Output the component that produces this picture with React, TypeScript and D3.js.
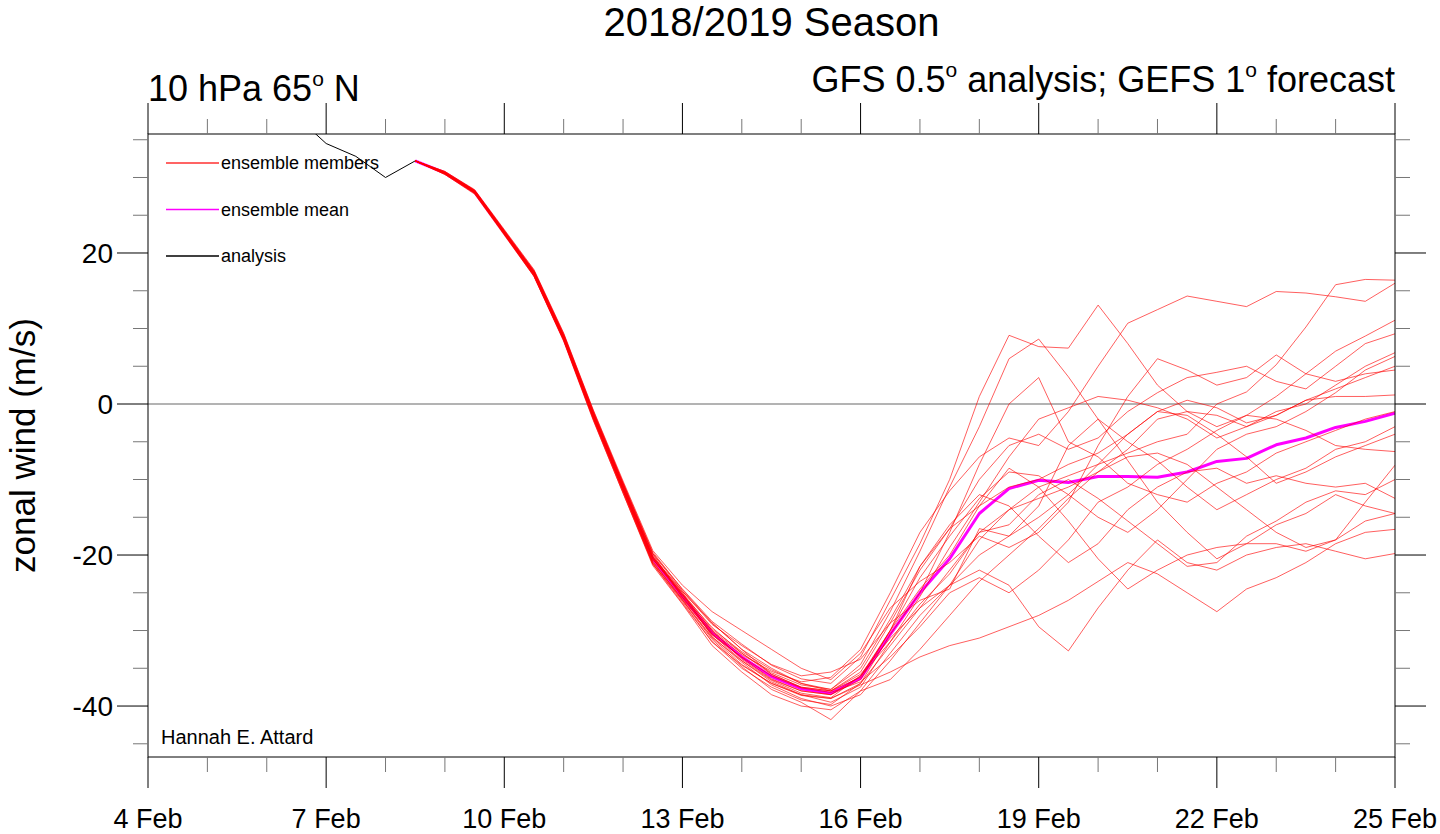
import React from 'react';
import * as d3 from 'd3';

// ---------- data ----------
const memberTimes = [8.5, 9, 9.5, 10.5, 11, 11.5, 12, 12.5, 13, 13.5, 14, 14.5, 15, 15.5, 16, 16.5, 17, 17.5, 18, 18.5, 19, 19.5, 20, 20.5, 21, 21.5, 22, 22.5, 23, 23.5, 24, 24.5, 25];

const member01 = [32.2, 30.5, 28.0, 17.6, 9.2, -1.0, -10.6, -19.8, -24.5, -28.8, -31.8, -34.6, -36.4, -37.0, -33.5, -26.0, -18.5, -10.0, 1.0, 9.1, 7.6, 7.4, 13.1, 8.0, 2.5, -1.0, -3.0, -1.5, 1.0, 4.0, 7.0, 9.0, 11.1];
const member02 = [32.2, 30.6, 28.2, 17.3, 8.9, -1.3, -10.8, -20.2, -25.2, -29.6, -33.0, -35.6, -37.2, -37.8, -34.5, -27.5, -19.5, -11.0, -3.0, 6.0, 8.6, 3.6, -2.0, -7.5, -13.0, -17.0, -20.5, -18.5, -16.0, -14.5, -12.0, -13.5, -14.5];
const member03 = [32.2, 30.7, 28.3, 17.5, 9.0, -1.2, -10.5, -19.9, -25.6, -30.2, -33.2, -35.4, -36.8, -36.2, -32.5, -25.0, -17.0, -11.5, -7.0, -4.5, -5.5, -1.0, 5.0, 10.7, 12.5, 14.3, 13.6, 12.9, 14.9, 14.7, 14.2, 13.6, 16.0];
const member04 = [32.2, 30.6, 28.0, 17.1, 8.6, -1.8, -11.4, -20.9, -26.0, -31.0, -34.5, -37.0, -38.5, -39.0, -37.0, -32.0, -27.0, -22.0, -17.0, -14.0, -11.0, -9.5, -8.0, -6.5, -5.0, -4.0, 0.0, 1.6, 5.2, 10.2, 15.8, 16.5, 16.4];
const member05 = [32.2, 30.4, 27.9, 17.2, 8.8, -1.5, -11.0, -20.3, -24.8, -29.0, -32.5, -35.0, -37.0, -38.0, -35.5, -29.0, -22.0, -16.5, -10.0, -5.5, -4.0, -6.0, -4.5, -1.0, 1.5, 3.5, 4.2, 5.0, 3.0, 2.0, 5.0, 8.0, 9.3];
const member06 = [32.2, 30.6, 28.1, 17.0, 8.5, -1.9, -11.5, -21.0, -25.8, -30.5, -34.0, -36.8, -38.5, -39.5, -37.5, -31.5, -25.5, -19.0, -13.0, -7.0, -2.0, -0.5, 1.0, 0.5, -0.5, -2.0, -4.5, -3.0, -1.0, 0.0, 2.5, 5.0, 6.8];
const member07 = [32.2, 30.5, 28.2, 17.4, 8.9, -1.4, -11.1, -20.5, -25.3, -30.0, -33.8, -36.5, -38.0, -38.5, -36.0, -30.0, -23.0, -17.5, -12.5, -9.0, -9.5, -12.0, -15.0, -17.0, -14.0, -10.0, -6.0, -4.0, -3.0, -1.0, 1.5, 4.5, 6.3];
const member08 = [32.2, 30.7, 28.0, 16.9, 8.4, -2.1, -11.8, -21.4, -26.5, -32.0, -35.5, -38.5, -40.0, -40.5, -38.0, -33.0, -28.0, -24.0, -20.0, -17.5, -15.0, -12.0, -8.0, -4.0, -1.0, 0.5, -0.5, -2.5, -1.5, 0.5, 2.0, 3.5, 5.0];
const member09 = [32.2, 30.8, 28.4, 17.8, 9.4, -0.8, -10.2, -19.4, -24.0, -27.5, -30.0, -32.5, -35.0, -36.5, -33.0, -27.0, -23.5, -21.0, -17.5, -19.0, -17.0, -13.0, -5.5, 1.0, 6.0, 4.5, 2.5, 3.5, 6.5, 4.0, 3.0, 4.0, 4.5];
const member10 = [32.2, 30.6, 28.1, 17.2, 8.7, -1.6, -11.2, -20.6, -25.0, -30.8, -34.2, -37.2, -39.0, -40.0, -38.5, -34.0, -29.0, -24.0, -18.0, -14.0, -12.5, -11.0, -9.0, -6.0, -2.0, -1.0, -1.5, -3.0, -1.5, 0.5, 1.0, 1.0, 1.2];
const member11 = [32.2, 30.5, 27.9, 17.1, 8.6, -1.8, -11.4, -21.1, -26.2, -31.5, -35.0, -37.5, -39.2, -39.8, -37.0, -30.5, -25.0, -17.0, -8.0, 0.0, 3.5, -5.0, -7.0, -10.5, -12.0, -13.0, -10.5, -9.0, -6.5, -5.0, -3.5, -2.0, -1.0];
const member12 = [32.2, 30.7, 28.3, 17.6, 9.1, -1.1, -10.5, -19.8, -24.8, -29.2, -32.0, -34.5, -36.0, -35.5, -33.8, -29.0, -26.0, -24.5, -16.5, -17.5, -13.5, -5.5, -2.0, -5.0, -7.5, -11.0, -14.0, -12.0, -10.0, -8.5, -6.0, -5.0, -3.0];
const member13 = [32.2, 30.6, 28.1, 17.3, 8.8, -1.6, -11.1, -20.5, -25.6, -30.6, -33.5, -36.0, -37.6, -38.2, -36.8, -33.5, -29.5, -25.0, -23.0, -25.0, -22.0, -18.0, -13.0, -11.0, -8.0, -6.0, -3.5, -1.5, -2.0, -3.5, -5.5, -6.0, -6.3];
const member14 = [32.2, 30.4, 27.8, 16.9, 8.3, -2.2, -11.8, -21.2, -26.0, -31.2, -34.8, -37.8, -39.5, -41.8, -38.0, -36.5, -32.5, -28.0, -23.5, -20.0, -16.5, -12.5, -9.0, -7.0, -6.5, -8.0, -11.0, -14.0, -17.0, -19.0, -18.0, -13.0, -8.1];
const member15 = [32.2, 30.6, 28.2, 17.5, 9.0, -1.3, -10.8, -20.1, -25.0, -29.8, -32.8, -35.2, -37.0, -37.8, -35.0, -28.5, -21.5, -16.0, -12.0, -13.5, -17.5, -21.0, -18.5, -14.0, -11.0, -9.0, -8.5, -10.5, -9.5, -10.5, -11.0, -10.5, -12.5];
const member16 = [32.2, 30.6, 28.1, 17.3, 8.9, -1.4, -11.0, -20.4, -25.4, -30.4, -33.6, -36.4, -38.0, -38.5, -36.5, -30.0, -24.5, -20.0, -13.5, -8.5, -11.0, -15.5, -20.5, -24.5, -22.0, -20.0, -19.0, -18.5, -18.5, -19.5, -18.0, -15.5, -14.5];
const member17 = [32.2, 30.5, 28.0, 17.0, 8.5, -2.0, -11.6, -21.2, -26.4, -31.5, -34.6, -37.0, -38.6, -39.0, -37.2, -35.5, -33.5, -32.0, -31.0, -29.5, -28.0, -26.0, -23.5, -21.0, -22.5, -25.0, -27.5, -24.5, -23.0, -21.0, -18.5, -17.0, -16.6];
const member18 = [32.2, 30.8, 28.3, 17.7, 9.3, -0.9, -10.4, -19.6, -24.6, -29.0, -32.5, -35.8, -37.5, -38.0, -35.8, -31.0, -27.0, -24.0, -22.0, -24.0, -29.5, -32.7, -27.0, -22.0, -18.0, -21.0, -22.0, -20.0, -19.0, -18.5, -19.5, -20.5, -19.8];
const member19 = [32.2, 30.6, 28.0, 17.2, 8.7, -1.7, -11.3, -20.8, -25.9, -30.9, -34.0, -36.6, -38.3, -38.9, -36.0, -31.5, -26.5, -22.5, -17.0, -16.0, -12.0, -10.0, -12.5, -15.5, -18.5, -21.5, -21.0, -17.5, -15.5, -13.0, -11.5, -12.0, -10.0];
const member20 = [32.2, 30.6, 28.2, 17.4, 8.9, -1.4, -10.9, -20.3, -25.2, -30.0, -33.0, -35.8, -37.5, -38.0, -36.2, -30.0, -21.5, -16.5, -13.5, -11.0, -10.0, -8.0, -6.5, -4.0, -1.0, -1.5, -4.0, -7.0, -10.5, -9.0, -7.0, -5.5, -4.0];

const members = [member01, member02, member03, member04, member05, member06, member07, member08, member09, member10,
  member11, member12, member13, member14, member15, member16, member17, member18, member19, member20];

const ensembleMean = [32.2, 30.6, 28.1, 17.3, 8.8, -1.5, -11.0, -20.5, -25.5, -30.3, -33.5, -36.1, -37.7, -38.3, -36.3, -30.5, -25.0, -20.5, -14.5, -11.2, -10.1, -10.4, -9.6, -9.6, -9.7, -9.0, -7.6, -7.2, -5.4, -4.5, -3.1, -2.3, -1.2];

const analysisTimes = [6.5, 7, 7.5, 8, 8.5];
const analysisValues = [38.1, 34.5, 32.8, 30.0, 32.2];

const majorTickDays = [4, 7, 10, 13, 16, 19, 22, 25];
const xTickLabels = ['4 Feb', '7 Feb', '10 Feb', '13 Feb', '16 Feb', '19 Feb', '22 Feb', '25 Feb'];
const yTickValues = [-40, -20, 0, 20];
const yTickLabels = ['-40', '-20', '0', '20'];

const legendItems = ['ensemble members', 'ensemble mean', 'analysis'];
const legendColors = ['#ff3030', '#ff00ff', '#000000'];

// ---------- layout ----------
const W = 1440, H = 834;
const X0 = 148, X1 = 1395, Y0 = 134, Y1 = 757;
const FONT = '"Liberation Sans", Arial, Helvetica, sans-serif';

const dayToDate = (d: number) => new Date(Date.UTC(2019, 1, 1) + (d - 1) * 864e5);

export default function App() {
  const x = d3.scaleUtc().domain([dayToDate(4), dayToDate(25)]).range([X0, X1]);
  const y = d3.scaleLinear().domain([-46.75, 35.76]).range([Y1, Y0]);

  const line = d3.line<[number, number]>()
    .x((d) => x(dayToDate(d[0])))
    .y((d) => y(d[1]));

  const minorX = x.ticks(d3.utcDay.every(1) as any).filter(
    (d) => !majorTickDays.some((m) => +dayToDate(m) === +d)
  );
  const minorY = d3.range(-45, 36, 5).filter((v) => !yTickValues.includes(v));

  const memberPaths = members.map((vals) => line(memberTimes.map((t, i) => [t, vals[i]] as [number, number])) || '');
  const meanPath = line(memberTimes.map((t, i) => [t, ensembleMean[i]] as [number, number])) || '';
  const analysisPath = line(analysisTimes.map((t, i) => [t, analysisValues[i]] as [number, number])) || '';

  const majT = 31, minT = 15;

  return (
    <svg width={W} height={H} style={{ position: 'absolute', left: 0, top: 0, background: '#fff' }}
      fontFamily={FONT}>
      <defs>
        <clipPath id="plotclip">
          <rect x={X0} y={Y0} width={X1 - X0} height={Y1 - Y0} />
        </clipPath>
      </defs>
      <rect x={0} y={0} width={W} height={H} fill="#fff" />

      {/* title */}
      <text x={(X0 + X1) / 2} y={36} fontSize={40} textAnchor="middle" fill="#000">2018/2019 Season</text>
      <text x={X0} y={101} fontSize={36} fill="#000">
        10 hPa 65<tspan dy={-15} fontSize={21}>o</tspan><tspan dy={15}> N</tspan>
      </text>
      <text x={X1} y={92} fontSize={36} textAnchor="end" fill="#000">
        GFS 0.5<tspan dy={-15} fontSize={21}>o</tspan><tspan dy={15}> analysis; GEFS 1</tspan><tspan dy={-15} fontSize={21}>o</tspan><tspan dy={15}> forecast</tspan>
      </text>

      {/* zero line */}
      <line x1={X0} x2={X1} y1={y(0)} y2={y(0)} stroke="#9a9a9a" strokeWidth={1.5} />

      {/* data */}
      <g clipPath="url(#plotclip)" fill="none">
        <path d={analysisPath} stroke="#000" strokeWidth={1} />
        <path d={meanPath} stroke="#ff00ff" strokeWidth={3} strokeLinejoin="round" />
        {memberPaths.map((p, i) => (
          <path key={i} d={p} stroke="#ff0000" strokeWidth={0.9} strokeOpacity={0.7} strokeLinejoin="round" />
        ))}
      </g>

      {/* frame */}
      <rect x={X0} y={Y0} width={X1 - X0} height={Y1 - Y0} fill="none" stroke="#000" strokeWidth={1} />

      {/* x ticks */}
      {majorTickDays.map((d, i) => {
        const px = x(dayToDate(d));
        return (
          <g key={'xm' + i}>
            <line x1={px} x2={px} y1={Y0} y2={Y0 - majT} stroke="#000" strokeWidth={1} />
            <line x1={px} x2={px} y1={Y1} y2={Y1 + majT} stroke="#000" strokeWidth={1} />
            <text x={px} y={828} fontSize={27} textAnchor="middle" fill="#000">{xTickLabels[i]}</text>
          </g>
        );
      })}
      {minorX.map((d, i) => {
        const px = x(d);
        return (
          <g key={'xn' + i}>
            <line x1={px} x2={px} y1={Y0} y2={Y0 - minT} stroke="#777" strokeWidth={1} />
            <line x1={px} x2={px} y1={Y1} y2={Y1 + minT} stroke="#777" strokeWidth={1} />
          </g>
        );
      })}

      {/* y ticks */}
      {yTickValues.map((v, i) => {
        const py = y(v);
        return (
          <g key={'ym' + i}>
            <line x1={X0} x2={X0 - majT} y1={py} y2={py} stroke="#000" strokeWidth={1} />
            <line x1={X1} x2={X1 + majT} y1={py} y2={py} stroke="#000" strokeWidth={1} />
            <text x={X0 - 35} y={py + 10} fontSize={28} textAnchor="end" fill="#000">{yTickLabels[i]}</text>
          </g>
        );
      })}
      {minorY.map((v, i) => {
        const py = y(v);
        return (
          <g key={'yn' + i}>
            <line x1={X0} x2={X0 - minT} y1={py} y2={py} stroke="#777" strokeWidth={1} />
            <line x1={X1} x2={X1 + minT} y1={py} y2={py} stroke="#777" strokeWidth={1} />
          </g>
        );
      })}

      {/* y axis title */}
      <text transform={`translate(35, ${(Y0 + Y1) / 2}) rotate(-90)`} fontSize={35} textAnchor="middle" fill="#000">
        zonal wind (m/s)
      </text>

      {/* legend */}
      {legendItems.map((label, i) => {
        const ly = [163, 209.5, 256][i];
        return (
          <g key={'lg' + i}>
            <line x1={166} x2={219} y1={ly} y2={ly} stroke={legendColors[i]} strokeWidth={1.3} />
            <text x={221} y={ly + 6} fontSize={18} fill="#000">{label}</text>
          </g>
        );
      })}

      {/* attribution */}
      <text x={161} y={744} fontSize={20} fill="#000">Hannah E. Attard</text>
    </svg>
  );
}
